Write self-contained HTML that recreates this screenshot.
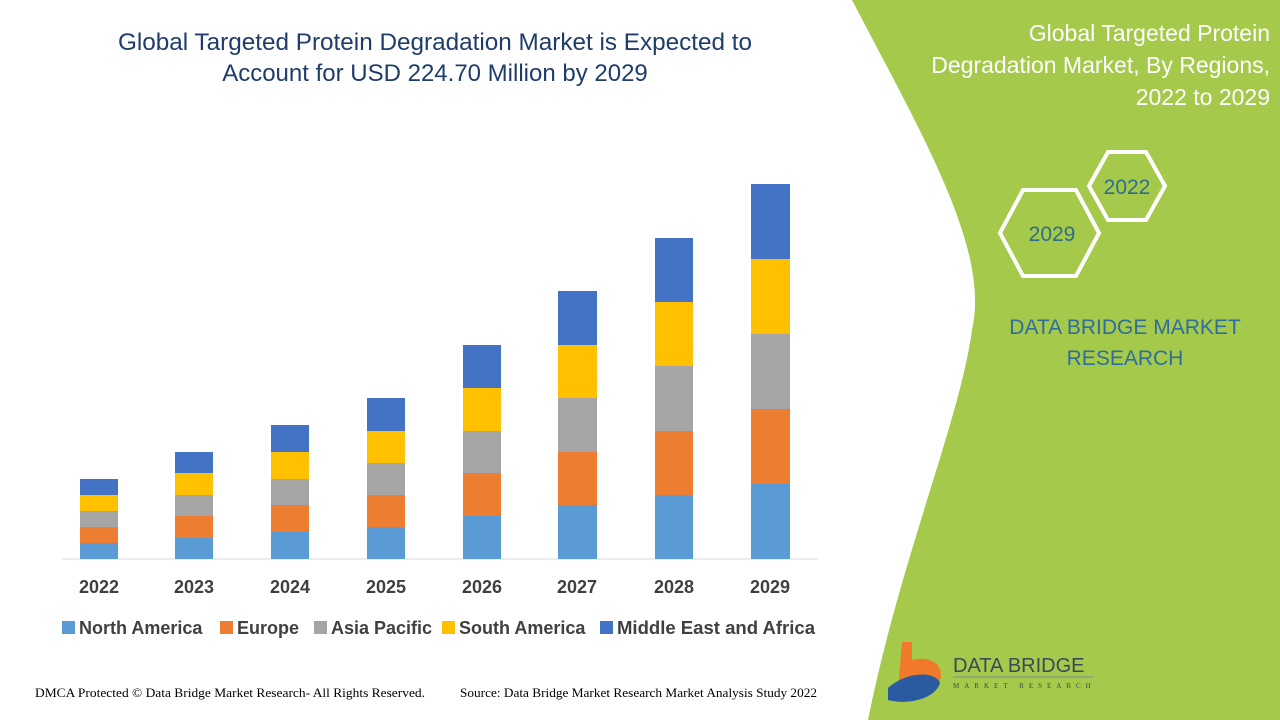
<!DOCTYPE html>
<html><head><meta charset="utf-8"><style>
body{margin:0;width:1280px;height:720px;overflow:hidden;background:#fff;font-family:"Liberation Sans",sans-serif;}
</style></head><body>
<svg width="1280" height="720" xmlns="http://www.w3.org/2000/svg" style="position:absolute;left:0;top:0">
<path d="M852,0 C925,140 990,250 972,330 C960,420 900,560 868,720 L1280,720 L1280,0 Z" fill="#a5c94a"/>
<g font-family="Liberation Sans, sans-serif">
<text x="435" y="50" text-anchor="middle" font-size="24" textLength="634" lengthAdjust="spacingAndGlyphs" fill="#1f3d6b">Global Targeted Protein Degradation Market is Expected to</text>
<text x="435" y="81" text-anchor="middle" font-size="24" fill="#1f3d6b">Account for USD 224.70 Million by 2029</text>
<g font-size="23" fill="#fff" text-anchor="end">
<text x="1270" y="41">Global Targeted Protein</text>
<text x="1270" y="73">Degradation Market, By Regions,</text>
<text x="1270" y="105">2022 to 2029</text>
</g>
<polygon points="1089,186 1108,152 1146,152 1165,186 1146,220 1108,220" fill="none" stroke="#fff" stroke-width="4"/>
<polygon points="1000,233 1023,190 1076,190 1099,233 1076,276 1023,276" fill="none" stroke="#fff" stroke-width="4"/>
<text x="1127" y="194" text-anchor="middle" font-size="21" fill="#2e6e8e">2022</text>
<text x="1052" y="241" text-anchor="middle" font-size="21" fill="#2e6e8e">2029</text>
<text x="1125" y="334" text-anchor="middle" font-size="21" fill="#2e6e9e">DATA BRIDGE MARKET</text>
<text x="1125" y="365" text-anchor="middle" font-size="21" fill="#2e6e9e">RESEARCH</text>
<line x1="62" y1="559" x2="818" y2="559" stroke="#d9d9d9" stroke-width="1"/>
<g>
<rect x="80" y="543" width="38" height="16" fill="#5b9bd5"/><rect x="80" y="527" width="38" height="16" fill="#ed7d31"/><rect x="80" y="511" width="38" height="16" fill="#a5a5a5"/><rect x="80" y="495" width="38" height="16" fill="#ffc000"/><rect x="80" y="479" width="38" height="16" fill="#4472c4"/>
<rect x="175" y="538" width="38" height="21" fill="#5b9bd5"/><rect x="175" y="516" width="38" height="22" fill="#ed7d31"/><rect x="175" y="495" width="38" height="21" fill="#a5a5a5"/><rect x="175" y="473" width="38" height="22" fill="#ffc000"/><rect x="175" y="452" width="38" height="21" fill="#4472c4"/>
<rect x="271" y="532" width="38" height="27" fill="#5b9bd5"/><rect x="271" y="505" width="38" height="27" fill="#ed7d31"/><rect x="271" y="479" width="38" height="26" fill="#a5a5a5"/><rect x="271" y="452" width="38" height="27" fill="#ffc000"/><rect x="271" y="425" width="38" height="27" fill="#4472c4"/>
<rect x="367" y="527" width="38" height="32" fill="#5b9bd5"/><rect x="367" y="495" width="38" height="32" fill="#ed7d31"/><rect x="367" y="463" width="38" height="32" fill="#a5a5a5"/><rect x="367" y="431" width="38" height="32" fill="#ffc000"/><rect x="367" y="398" width="38" height="33" fill="#4472c4"/>
<rect x="463" y="516" width="38" height="43" fill="#5b9bd5"/><rect x="463" y="473" width="38" height="43" fill="#ed7d31"/><rect x="463" y="431" width="38" height="42" fill="#a5a5a5"/><rect x="463" y="388" width="38" height="43" fill="#ffc000"/><rect x="463" y="345" width="38" height="43" fill="#4472c4"/>
<rect x="558" y="505" width="39" height="54" fill="#5b9bd5"/><rect x="558" y="452" width="39" height="53" fill="#ed7d31"/><rect x="558" y="398" width="39" height="54" fill="#a5a5a5"/><rect x="558" y="345" width="39" height="53" fill="#ffc000"/><rect x="558" y="291" width="39" height="54" fill="#4472c4"/>
<rect x="655" y="495" width="38" height="64" fill="#5b9bd5"/><rect x="655" y="431" width="38" height="64" fill="#ed7d31"/><rect x="655" y="366" width="38" height="65" fill="#a5a5a5"/><rect x="655" y="302" width="38" height="64" fill="#ffc000"/><rect x="655" y="238" width="38" height="64" fill="#4472c4"/>
<rect x="751" y="484" width="39" height="75" fill="#5b9bd5"/><rect x="751" y="409" width="39" height="75" fill="#ed7d31"/><rect x="751" y="334" width="39" height="75" fill="#a5a5a5"/><rect x="751" y="259" width="39" height="75" fill="#ffc000"/><rect x="751" y="184" width="39" height="75" fill="#4472c4"/>
</g>
<g font-size="18" font-weight="bold" fill="#404040" text-anchor="middle">
<text x="99" y="593">2022</text><text x="194" y="593">2023</text><text x="290" y="593">2024</text><text x="386" y="593">2025</text><text x="482" y="593">2026</text><text x="577" y="593">2027</text><text x="674" y="593">2028</text><text x="770" y="593">2029</text>
</g>
<g font-size="18" font-weight="bold" fill="#404040">
<rect x="62" y="621" width="13" height="13" fill="#5b9bd5"/><text x="79" y="634">North America</text>
<rect x="220" y="621" width="13" height="13" fill="#ed7d31"/><text x="237" y="634">Europe</text>
<rect x="314" y="621" width="13" height="13" fill="#a5a5a5"/><text x="331" y="634">Asia Pacific</text>
<rect x="442" y="621" width="13" height="13" fill="#ffc000"/><text x="459" y="634">South America</text>
<rect x="600" y="621" width="13" height="13" fill="#4472c4"/><text x="617" y="634" textLength="198" lengthAdjust="spacingAndGlyphs">Middle East and Africa</text>
</g>
<text x="35" y="697" font-family="Liberation Serif, serif" font-size="13" textLength="390" lengthAdjust="spacingAndGlyphs" fill="#000">DMCA Protected © Data Bridge Market Research- All Rights Reserved.</text>
<text x="460" y="697" font-family="Liberation Serif, serif" font-size="13" textLength="357" lengthAdjust="spacingAndGlyphs" fill="#000">Source: Data Bridge Market Research Market Analysis Study 2022</text>
<path d="M902,642 L912,642 L912,660 C930,655 945,665 940,680 C930,690 915,692 898,690 Z" fill="#f07a2a"/>
<path d="M888,688 C905,672 935,670 940,683 C935,700 905,705 888,700 Z" fill="#2a5aa0"/>
<text x="953" y="672" font-size="20" fill="#3a4a5a">DATA BRIDGE</text>
<line x1="953" y1="677" x2="1093" y2="677" stroke="#7a8a9a"/>
<text x="953" y="688" font-family="Liberation Serif, serif" font-size="7" letter-spacing="5" fill="#3a4a5a">MARKET RESEARCH</text>
</g>
</svg>
</body></html>
